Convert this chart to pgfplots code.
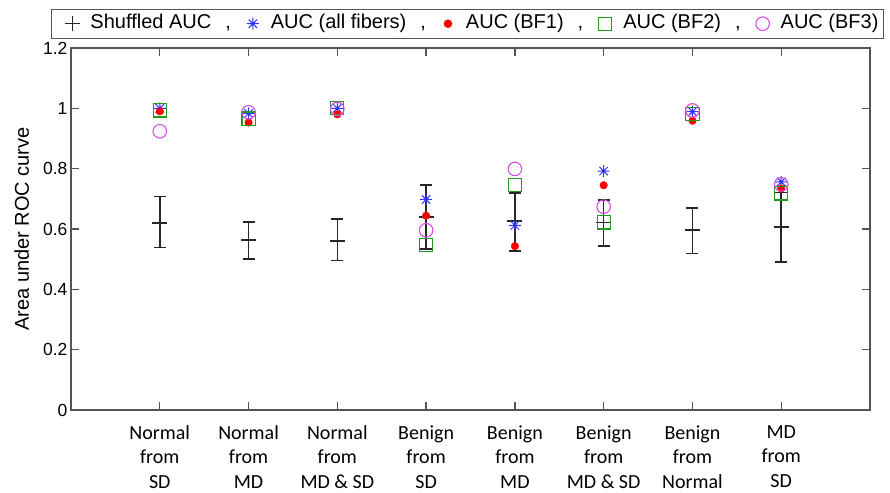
\documentclass[border=0pt]{standalone}
\usepackage{fontspec}
\setmainfont{Liberation Sans}
\newfontfamily\calibri{Carlito}
\usepackage{pgfplots}
\usepackage{pgfplotstable}
\pgfplotsset{compat=1.18}

\definecolor{mblue}{rgb}{0.2,0.2,1}
\definecolor{mred}{rgb}{1,0,0}
\definecolor{mgreen}{rgb}{0.13,0.6,0.13}
\definecolor{mmag}{rgb}{0.85,0.3,0.9}
\definecolor{axisgray}{rgb}{0.33,0.33,0.33}
\definecolor{barblack}{rgb}{0.15,0.15,0.15}

% eight-pointed asterisk: a plus and a cross on top of each other
\pgfdeclareplotmark{mstar}{%
  \pgfpathmoveto{\pgfqpoint{-\pgfplotmarksize}{0pt}}%
  \pgfpathlineto{\pgfqpoint{\pgfplotmarksize}{0pt}}%
  \pgfpathmoveto{\pgfqpoint{0pt}{-\pgfplotmarksize}}%
  \pgfpathlineto{\pgfqpoint{0pt}{\pgfplotmarksize}}%
  \pgfpathmoveto{\pgfqpoint{-0.7071\pgfplotmarksize}{-0.7071\pgfplotmarksize}}%
  \pgfpathlineto{\pgfqpoint{0.7071\pgfplotmarksize}{0.7071\pgfplotmarksize}}%
  \pgfpathmoveto{\pgfqpoint{-0.7071\pgfplotmarksize}{0.7071\pgfplotmarksize}}%
  \pgfpathlineto{\pgfqpoint{0.7071\pgfplotmarksize}{-0.7071\pgfplotmarksize}}%
  \pgfusepathqstroke}

% shuffled-label AUC: mean with upper / lower spread
\pgfplotstableread{
x   y      ep     em
1   0.620  0.087  0.082
2   0.564  0.060  0.063
3   0.561  0.072  0.066
4   0.639  0.107  0.106
5   0.626  0.094  0.099
6   0.621  0.075  0.077
7   0.596  0.074  0.077
8   0.606  0.115  0.115
}\shuffled

% AUC per comparison: all fibers and the three best fibers
\pgfplotstableread{
x   all    bfa    bfb    bfc
1   1.000  0.990  0.993  0.924
2   0.983  0.953  0.966  0.987
3   1.000  0.980  1.000  0.998
4   0.698  0.644  0.548  0.596
5   0.612  0.543  0.747  0.799
6   0.792  0.745  0.622  0.674
7   0.989  0.959  0.981  0.993
8   0.756  0.734  0.718  0.748
}\auc

\begin{document}
\begin{tikzpicture}
\begin{axis}[
  at={(0pt,0pt)}, anchor=south west,
  scale only axis, width=799pt, height=362pt,
  xmin=0, xmax=9, ymin=0, ymax=1.2,
  xtick={1,2,3,4,5,6,7,8},
  xticklabels={{Normal\\from\\SD},{Normal\\from\\MD},{Normal\\from\\MD \& SD},
               {Benign\\from\\SD},{Benign\\from\\MD},{Benign\\from\\MD \& SD},
               {Benign\\from\\Normal},{MD\\from\\SD}},
  ytick={0,0.2,0.4,0.6,0.8,1,1.2},
  yticklabels={0,0.2,0.4,0.6,0.8,1,1.2},
  tick align=inside,
  major tick length=8pt,
  axis line style={axisgray, line width=1.3pt},
  tick style={axisgray, line width=1.3pt},
  /pgf/number format/assume math mode=true,
  yticklabel style={font=\fontsize{17.5}{21}\selectfont, text=black},
  xticklabel style={font=\calibri\fontsize{20}{24.5}\selectfont, align=center, yshift=-12pt, text=black},
  ylabel={Area under ROC curve},
  ylabel style={font=\fontsize{20}{24}\selectfont, at={(axis description cs:-0.0617,0.5)}, anchor=center},
  legend columns=5,
  legend style={
    at={(axis description cs:-0.025,1.1077)}, anchor=north west,
    draw=axisgray, line width=0.9pt,
    inner xsep=5pt, inner ysep=2.5pt,
    font=\fontsize{20}{24}\selectfont,
    nodes={inner xsep=0pt, inner ysep=2pt, text height=15pt, text depth=4.5pt},
    /tikz/every odd column/.append style={column sep=8pt},
    /tikz/every even column/.append style={column sep=6pt},
  },
  legend image code/.code={%
    \path[draw=none] (-6pt,0pt) -- (20pt,0pt);
    \draw[#1, only marks] plot coordinates {(10pt,0pt)};},
]
\addplot[only marks, mark=+, mark size=7.5pt, barblack,
         mark options={line width=1.5pt},
         error bars/.cd, y dir=both, y explicit, error mark=|,
         error bar style={line width=1.5pt, barblack},
         error mark options={line width=1.5pt, barblack, mark size=6pt}]
  table[x=x, y=y, y error plus=ep, y error minus=em]{\shuffled};
\addlegendentry{Shuffled AUC\hspace{14pt},}

\addplot[only marks, mark=mstar, mark size=6pt, mblue, mark options={line width=1pt}]
  table[x=x, y=all]{\auc};
\addlegendentry{AUC (all fibers)\hspace{14pt},}

\addplot[only marks, mark=*, mark size=3.8pt, mred, mark options={draw=mred, fill=mred}]
  table[x=x, y=bfa]{\auc};
\addlegendentry{AUC (BF1)\hspace{14pt},}

\addplot[only marks, mark=square, mark size=6.6pt, mgreen, mark options={line width=1.1pt}]
  table[x=x, y=bfb]{\auc};
\addlegendentry{AUC (BF2)\hspace{14pt},}

\addplot[only marks, mark=o, mark size=6.8pt, mmag, mark options={line width=1.1pt}]
  table[x=x, y=bfc]{\auc};
\addlegendentry{AUC (BF3)}
\end{axis}
\pgfresetboundingbox
\path[use as bounding box] (-71pt,-82pt) rectangle (819pt,410pt);
\end{tikzpicture}
\end{document}
